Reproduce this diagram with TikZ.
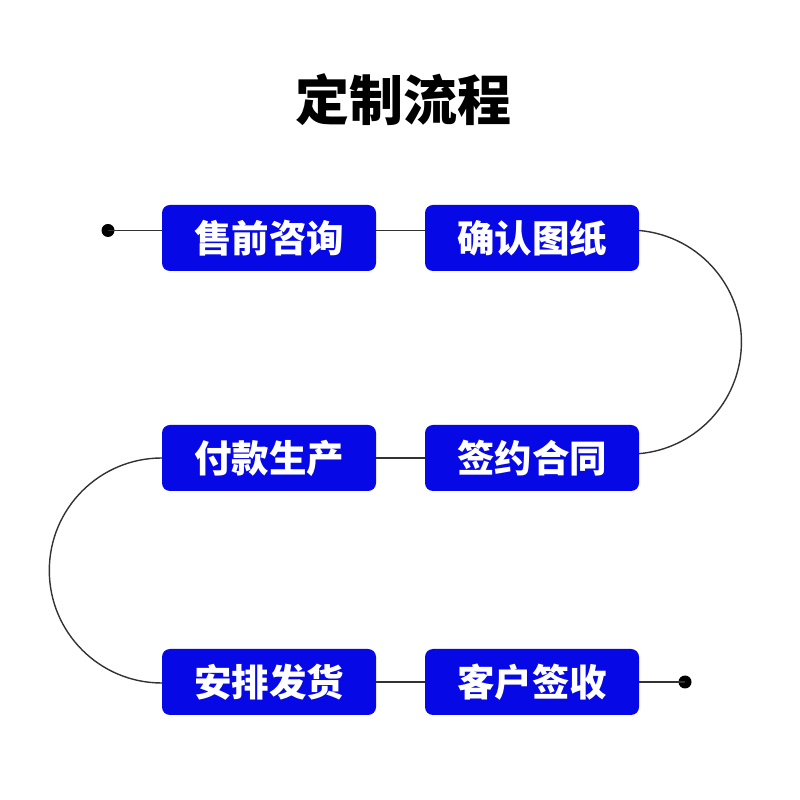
\documentclass[tikz,border=0pt]{standalone}
\usepackage{fontspec}
\newfontfamily\cjk{Noto Sans CJK SC}
\definecolor{boxblue}{RGB}{6,8,230}
\definecolor{linegray}{RGB}{50,50,50}
\begin{document}
\begin{tikzpicture}[x=1pt,y=1pt]
\useasboundingbox (0,0) rectangle (800,800);
\tikzset{
  stepbox/.style={fill=boxblue, rounded corners=8pt, minimum width=214pt, minimum height=66pt, inner sep=0pt, text=white, font=\cjk\bfseries\fontsize{37.5}{37.5}\selectfont},
  conn/.style={draw=linegray, line width=1.4pt},
  titletext/.style={font=\cjk\bfseries\fontsize{54}{54}\selectfont, text=black}
}
\node[titletext] (title) at (403,700) {定制流程};
\node[stepbox] (b1) at (269,562) {售前咨询};
\node[stepbox] (b2) at (532,562) {确认图纸};
\node[stepbox] (b3) at (269,342) {付款生产};
\node[stepbox] (b4) at (532,342) {签约合同};
\node[stepbox] (b5) at (269,118) {安排发货};
\node[stepbox] (b6) at (532,118) {客户签收};
\coordinate (d1) at (108,569.5);
\coordinate (d2) at (685,118);
\fill[black] (d1) circle (6.5);
\fill[black] (d2) circle (6.5);
\draw[conn] (d1) -- (b1.west |- d1);
\draw[conn] (b1.east |- d1) -- (b2.west |- d1);
\draw[conn] (b2.east |- d1) arc[start angle=85, end angle=-85, radius=112];
\draw[conn] (b4.west) -- (b3.east);
\draw[conn] (b3.west) arc[start angle=90, end angle=270, radius=112.5];
\draw[conn] (b5.east) -- (b6.west);
\draw[conn] (b6.east) -- (d2);
\end{tikzpicture}
\end{document}
